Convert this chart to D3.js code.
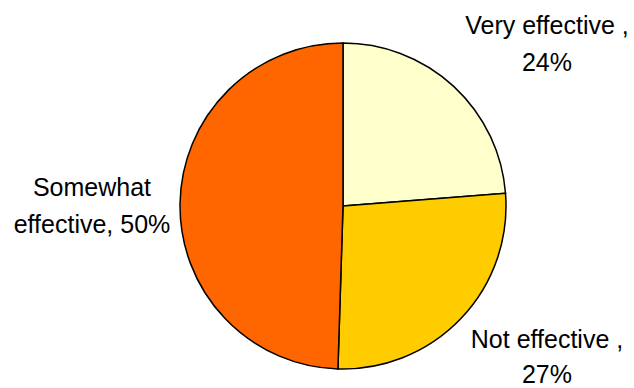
<!DOCTYPE html>
<html><head><meta charset="utf-8">
<script src="https://cdn.jsdelivr.net/npm/d3@7"></script>
<style>body{margin:0;background:#fff}svg{display:block}</style>
</head><body>
<svg id="c" width="634" height="388"></svg>
<script>
const categories = ["Very effective", "Not effective", "Somewhat effective"];
const values = [24, 27, 50];
const labelLines = [["Very effective ,", "24%"], ["Not effective ,", "27%"], ["Somewhat", "effective, 50%"]];
const colors = ["#FFFFCC", "#FFCC00", "#FF6600"];

const svg = d3.select("#c");
const cx = 343, cy = 206, r = 163;
const pie = d3.pie().sort(null).value(d => d)(values);
const arc = d3.arc().innerRadius(0).outerRadius(r);
const g = svg.append("g").attr("transform", `translate(${cx},${cy})`);
g.selectAll("path").data(pie).join("path")
  .attr("d", arc).attr("fill", (d, i) => colors[i])
  .attr("stroke", "#000").attr("stroke-width", 1.5);

const labelPos = [[547, 34], [547, 348], [92, 196]];
const lineGaps = [37, 35, 37];
labelLines.forEach((lines, i) => {
  const t = svg.append("text").attr("text-anchor", "middle")
    .attr("font-family", "Liberation Sans, Arial, sans-serif")
    .attr("font-size", 25).attr("fill", "#000");
  lines.forEach((s, j) => t.append("tspan").attr("x", labelPos[i][0]).attr("y", labelPos[i][1] + j * lineGaps[i]).text(s));
});
</script>
</body></html>
